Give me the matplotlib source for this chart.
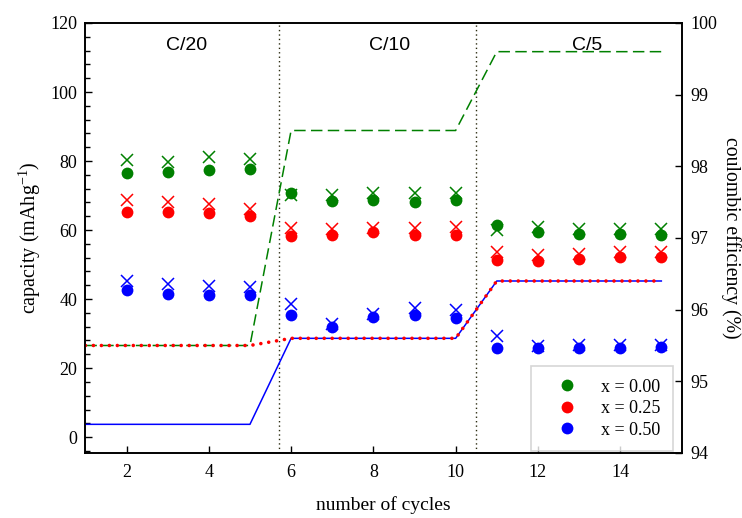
import matplotlib
matplotlib.use("Agg")
import matplotlib.pyplot as plt
from matplotlib.ticker import MultipleLocator
from matplotlib.lines import Line2D

plt.rcParams['font.family'] = ['Liberation Serif', 'DejaVu Serif']
plt.rcParams['mathtext.fontset'] = 'custom'
plt.rcParams['mathtext.rm'] = 'Liberation Serif'
plt.rcParams['mathtext.it'] = 'Liberation Serif:italic'

# capacity data (left axis), cycles 2..15
cycles = [2, 3, 4, 5, 6, 7, 8, 9, 10, 11, 12, 13, 14, 15]
green_dis = [76.4, 76.7, 77.4, 77.7, 70.6, 68.5, 68.7, 68.0, 68.7, 61.4, 59.5, 58.8, 58.8, 58.5]
green_ch = [80.3, 79.8, 81.2, 80.5, 70.3, 70.1, 70.6, 70.6, 70.8, 60.0, 61.0, 60.3, 60.3, 60.2]
red_dis = [65.1, 65.1, 64.8, 64.1, 58.3, 58.7, 59.3, 58.7, 58.7, 51.3, 51.1, 51.5, 52.1, 52.1]
red_ch = [68.7, 68.1, 67.5, 66.0, 60.5, 60.2, 60.5, 60.5, 60.8, 53.7, 52.8, 53.0, 53.5, 53.5]
blue_dis = [42.6, 41.6, 41.3, 41.3, 35.4, 32.0, 34.7, 35.4, 34.4, 25.7, 25.7, 25.9, 25.9, 26.0]
blue_ch = [45.2, 44.3, 43.9, 43.6, 38.7, 32.7, 35.6, 37.3, 36.8, 29.4, 26.5, 26.6, 26.6, 26.7]

# coulombic efficiency (right axis), cycles 1..15
eff_cycles = [1, 2, 3, 4, 5, 6, 7, 8, 9, 10, 11, 12, 13, 14, 15]
green_eff = [95.5, 95.5, 95.5, 95.5, 95.5, 98.5, 98.5, 98.5, 98.5, 98.5, 99.6, 99.6, 99.6, 99.6, 99.6]
red_eff = [95.5, 95.5, 95.5, 95.5, 95.5, 95.6, 95.6, 95.6, 95.6, 95.6, 96.4, 96.4, 96.4, 96.4, 96.4]
blue_eff = [94.4, 94.4, 94.4, 94.4, 94.4, 95.6, 95.6, 95.6, 95.6, 95.6, 96.4, 96.4, 96.4, 96.4, 96.4]

rates = ['C/20', 'C/10', 'C/5']
rate_x = [3.45, 8.4, 13.2]
rate_bounds = [5.7, 10.5]
legend_labels = ['x = 0.00', 'x = 0.25', 'x = 0.50']

col_g = '#008000'
col_r = '#ff0000'
col_b = '#0000ff'

fig = plt.figure(figsize=(7.42, 5.18), dpi=100)
ax = fig.add_axes([0.1151, 0.1255, 0.8039, 0.8301])
ax2 = ax.twinx()

for dis, ch, c in [(green_dis, green_ch, col_g), (red_dis, red_ch, col_r), (blue_dis, blue_ch, col_b)]:
    ax.plot(cycles, ch, linestyle='none', marker='x', ms=9, mew=1.1, color=c)
    ax.plot(cycles, dis, linestyle='none', marker='o', ms=8.5, mew=0, color=c)

for xb in rate_bounds:
    ax.axvline(xb, color='#2b2b10', lw=1.0, linestyle=(0, (1, 2.2)))

for t, xt in zip(rates, rate_x):
    ax.text(xt, 113.6, t, ha='center', va='center', fontsize=14, family='Liberation Sans')

ax2.plot(eff_cycles, green_eff, color=col_g, lw=1.1, dashes=[7.5, 3.5])
ax2.plot(eff_cycles, blue_eff, color=col_b, lw=1.1)
ax2.plot(eff_cycles, red_eff, color=col_r, lw=2.6, dashes=[0.01, 2.2], dash_capstyle='round')

ax.set_xlim(1, 15.5)
ax.set_ylim(-4.6, 120)
ax2.set_ylim(94, 100)

ax.xaxis.set_major_locator(MultipleLocator(2))
ax.yaxis.set_major_locator(MultipleLocator(20))
ax.yaxis.set_minor_locator(MultipleLocator(4))
ax2.yaxis.set_major_locator(MultipleLocator(1))

ax.tick_params(axis='both', which='major', direction='in', length=5, width=1, labelsize=13, pad=6)
ax.tick_params(axis='y', which='minor', direction='in', length=3.5, width=1)
ax.tick_params(axis='x', pad=8)
ax2.tick_params(axis='y', which='major', direction='in', length=5, width=1, labelsize=13, pad=6)

for a in (ax, ax2):
    for s in a.spines.values():
        s.set_linewidth(1.2)

ax.set_xlabel('number of cycles', fontsize=14, labelpad=11)
ax.set_ylabel('capacity (mAhg$^{-1}$)', fontsize=14.5, labelpad=5)
ax2.set_ylabel('coulombic efficiency (%)', fontsize=14.2, rotation=270, va='bottom', labelpad=3)

handles = [Line2D([], [], linestyle='none', marker='o', ms=8.5, mew=0, color=c) for c in (col_g, col_r, col_b)]
leg = ax2.legend(handles, legend_labels, loc='lower right', bbox_to_anchor=(0.985, 0.004),
                 fontsize=13, frameon=True, fancybox=False, borderaxespad=0,
                 handlelength=2.6, handletextpad=0.6, borderpad=0.7, labelspacing=0.25)
leg.get_frame().set_edgecolor('#cccccc')
leg.get_frame().set_linewidth(1.2)

fig.savefig('out.png', dpi=100)
